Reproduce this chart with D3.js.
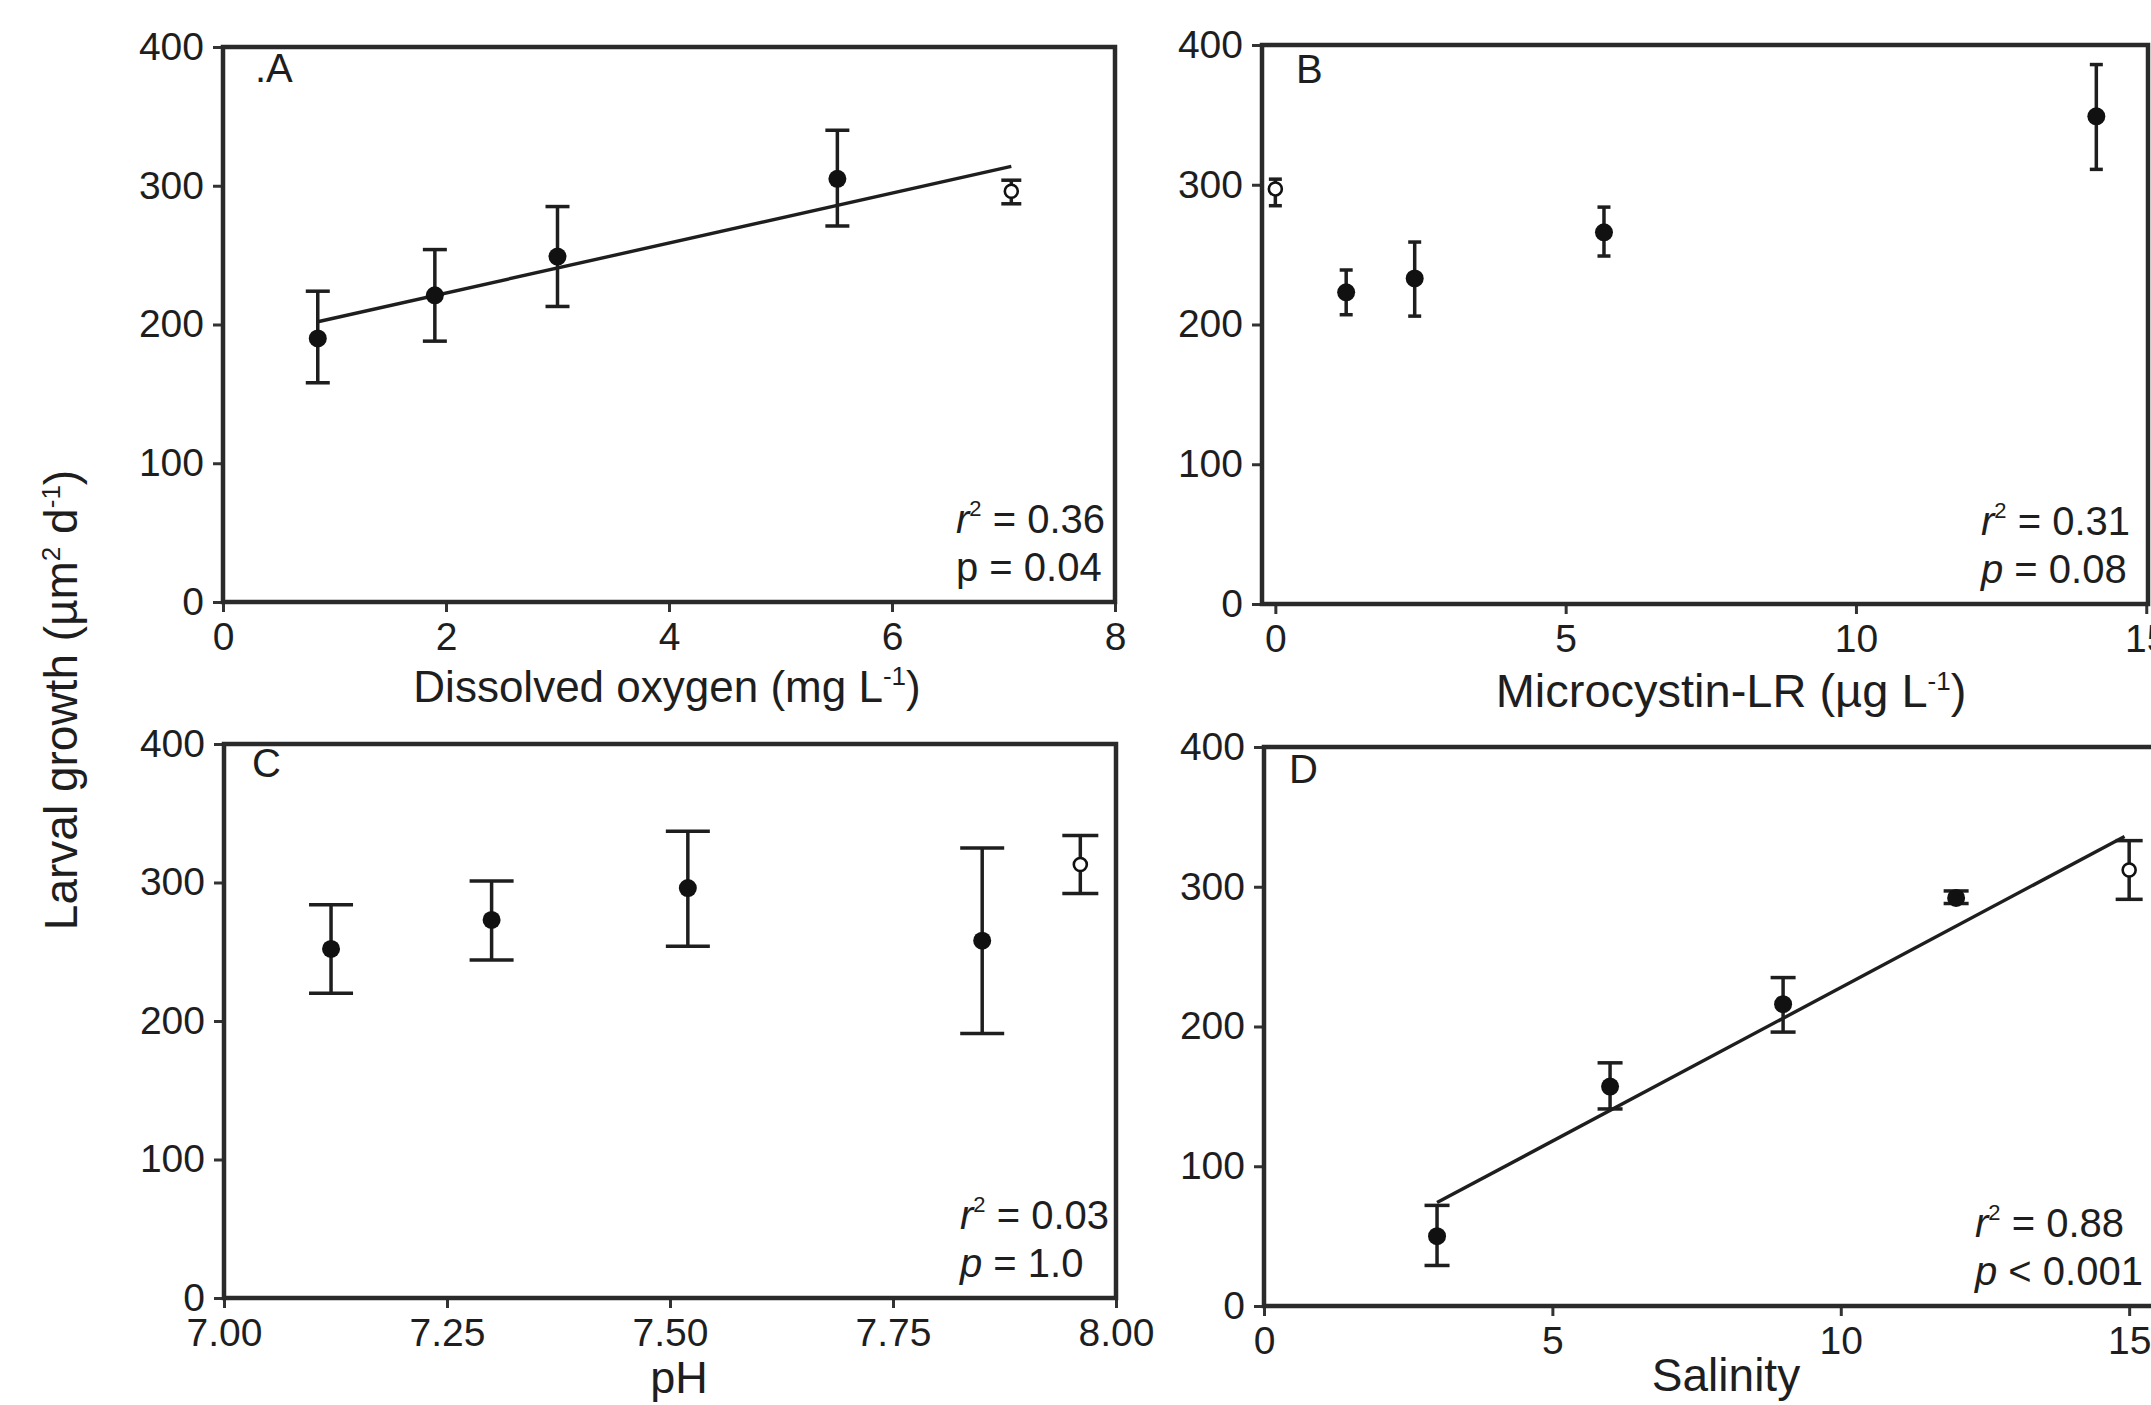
<!DOCTYPE html>
<html><head><meta charset="utf-8">
<script src="https://cdn.jsdelivr.net/npm/d3@7"></script>
<style>body{margin:0;background:#fff} svg{display:block}</style>
</head><body>
<svg id="c" width="2151" height="1405"></svg>
<script>
// ---------- DATA ----------
const yTicks = [0, 100, 200, 300, 400];

// Panel A: Dissolved oxygen
const oxygenX    = [0.85, 1.90, 3.00, 5.51, 7.07];
const oxygenY    = [190, 221, 249, 305, 296];
const oxygenHi   = [224, 254, 285, 340, 304];
const oxygenLo   = [158, 188, 213, 271, 287];
const oxygenOpen = [false, false, false, false, true];
const oxygenFitX = [0.85, 7.07];
const oxygenFitY = [202, 314];
const oxygenTicks = [0, 2, 4, 6, 8];

// Panel B: Microcystin-LR
const mcX    = [0, 1.22, 2.40, 5.66, 14.14];
const mcY    = [297, 223, 233, 266, 349];
const mcHi   = [304, 239, 259, 284, 386];
const mcLo   = [285, 207, 206, 249, 311];
const mcOpen = [true, false, false, false, false];
const mcTicks = [0, 5, 10, 15];

// Panel C: pH
const phX    = [7.12, 7.30, 7.52, 7.85, 7.96];
const phY    = [252, 273, 296, 258, 313];
const phHi   = [284, 301, 337, 325, 334];
const phLo   = [220, 244, 254, 191, 292];
const phOpen = [false, false, false, false, true];
const phTicks = [7.00, 7.25, 7.50, 7.75, 8.00];

// Panel D: Salinity
const salX    = [3, 6, 9, 12, 15];
const salY    = [50, 157, 216, 292, 312];
const salHi   = [72, 174, 235, 297, 333];
const salLo   = [29, 141, 196, 288, 291];
const salOpen = [false, false, false, false, true];
const salFitX = [3, 14.92];
const salFitY = [74, 336];
const salTicks = [0, 5, 10, 15];

const panelLetters = [".A", "B", "C", "D"];
const r2Values = ["0.36", "0.31", "0.03", "0.88"];
const pTexts   = [["p", " = 0.04"], ["p", " = 0.08"], ["p", " = 1.0"], ["p", " < 0.001"]];
const pItalic  = [false, true, true, true];

// ---------- DRAW ----------
const svg = d3.select('#c');
const FONT = '"Liberation Sans", Arial, Helvetica, sans-serif';
const INK = '#1e1e1e';

function panel(cfg) {
  const x = d3.scaleLinear().domain(cfg.xDomain).range([cfg.left, cfg.right]);
  const y = d3.scaleLinear().domain([0, 400]).range([cfg.bottom, cfg.top]);
  const g = svg.append('g');

  const ya = g.append('g').attr('transform', `translate(${cfg.left},0)`)
    .call(d3.axisLeft(y).tickValues(yTicks).tickSize(10).tickPadding(9).tickSizeOuter(0));
  const xa = g.append('g').attr('transform', `translate(0,${cfg.bottom})`)
    .call(d3.axisBottom(x).tickValues(cfg.xTicks).tickFormat(cfg.fmt).tickSize(10).tickPadding(10).tickSizeOuter(0));
  [ya, xa].forEach(a => {
    a.select('.domain').remove();
    a.selectAll('.tick line').attr('stroke', '#333').attr('stroke-width', 3);
    a.selectAll('.tick text').attr('font-family', FONT).attr('font-size', 39).attr('fill', INK);
  });

  g.append('rect')
    .attr('x', cfg.left).attr('y', cfg.top)
    .attr('width', cfg.right - cfg.left).attr('height', cfg.bottom - cfg.top)
    .attr('fill', 'none').attr('stroke', '#2a2a2a').attr('stroke-width', 4.5);

  if (cfg.fitX) {
    g.append('path')
      .datum(cfg.fitX.map((v, i) => [v, cfg.fitY[i]]))
      .attr('d', d3.line().x(d => x(d[0])).y(d => y(d[1])))
      .attr('fill', 'none').attr('stroke', INK).attr('stroke-width', 3.4);
  }

  const pts = cfg.X.map((v, i) => ({x: v, y: cfg.Y[i], hi: cfg.Hi[i], lo: cfg.Lo[i], open: cfg.Open[i]}));
  const eb = g.append('g').attr('stroke', INK).attr('stroke-width', 3.5);
  pts.forEach(d => {
    const cx = x(d.x);
    const w = d.open ? cfg.capOpen : cfg.cap;
    eb.append('line').attr('x1', cx).attr('x2', cx).attr('y1', y(d.lo)).attr('y2', y(d.hi));
    eb.append('line').attr('x1', cx - w / 2).attr('x2', cx + w / 2).attr('y1', y(d.hi)).attr('y2', y(d.hi));
    eb.append('line').attr('x1', cx - w / 2).attr('x2', cx + w / 2).attr('y1', y(d.lo)).attr('y2', y(d.lo));
  });
  g.append('g').selectAll('circle').data(pts).join('circle')
    .attr('cx', d => x(d.x)).attr('cy', d => y(d.y))
    .attr('r', d => d.open ? 6.5 : 9)
    .attr('fill', d => d.open ? '#fff' : '#111')
    .attr('stroke', '#111').attr('stroke-width', d => d.open ? 2.6 : 0);

  g.append('text').attr('x', cfg.letterX).attr('y', cfg.letterY)
    .attr('font-family', FONT).attr('font-size', 40).attr('fill', INK).text(cfg.letter);

  const s1 = g.append('text').attr('x', cfg.statX).attr('y', cfg.bottom - 69)
    .attr('font-family', FONT).attr('font-size', 40).attr('fill', INK);
  s1.append('tspan').attr('font-style', 'italic').text('r');
  s1.append('tspan').attr('font-size', 22).attr('dy', -17).text('2');
  s1.append('tspan').attr('dy', 17).text(' = ' + cfg.r2);
  const s2 = g.append('text').attr('x', cfg.statX).attr('y', cfg.bottom - 21)
    .attr('font-family', FONT).attr('font-size', 40).attr('fill', INK);
  s2.append('tspan').attr('font-style', cfg.pItalic ? 'italic' : 'normal').text(cfg.p[0]);
  s2.append('tspan').text(cfg.p[1]);

  const t = g.append('text').attr('x', cfg.titleX).attr('y', cfg.titleY)
    .attr('text-anchor', 'middle').attr('font-family', FONT).attr('font-size', cfg.titleSize).attr('fill', INK);
  cfg.title.forEach(part => {
    const ts = t.append('tspan').text(part.t);
    if (part.sup) ts.attr('font-size', 26).attr('dy', -17);
    if (part.down) ts.attr('dy', 17);
  });
}

panel({
  left: 223, right: 1115, top: 47, bottom: 602, xDomain: [0, 8], xTicks: oxygenTicks, fmt: d3.format('d'),
  X: oxygenX, Y: oxygenY, Hi: oxygenHi, Lo: oxygenLo, Open: oxygenOpen, fitX: oxygenFitX, fitY: oxygenFitY,
  cap: 24, capOpen: 20, letter: panelLetters[0], letterX: 255, letterY: 82,
  statX: 956, r2: r2Values[0], p: pTexts[0], pItalic: pItalic[0],
  titleX: 667, titleY: 702, titleSize: 44,
  title: [{t: 'Dissolved oxygen (mg L'}, {t: '-1', sup: true}, {t: ')', down: true}]
});
panel({
  left: 1262, right: 2148, top: 45, bottom: 604, xDomain: [-0.23, 15.03], xTicks: mcTicks, fmt: d3.format('d'),
  X: mcX, Y: mcY, Hi: mcHi, Lo: mcLo, Open: mcOpen,
  cap: 13, capOpen: 13, letter: panelLetters[1], letterX: 1296, letterY: 83,
  statX: 1981, r2: r2Values[1], p: pTexts[1], pItalic: pItalic[1],
  titleX: 1731, titleY: 707, titleSize: 47,
  title: [{t: 'Microcystin-LR (µg L'}, {t: '-1', sup: true}, {t: ')', down: true}]
});
panel({
  left: 224, right: 1116, top: 744, bottom: 1298, xDomain: [7, 8], xTicks: phTicks, fmt: d3.format('.2f'),
  X: phX, Y: phY, Hi: phHi, Lo: phLo, Open: phOpen,
  cap: 44, capOpen: 36, letter: panelLetters[2], letterX: 252, letterY: 777,
  statX: 960, r2: r2Values[2], p: pTexts[2], pItalic: pItalic[2],
  titleX: 679, titleY: 1393, titleSize: 45,
  title: [{t: 'pH'}]
});
panel({
  left: 1264, right: 2158, top: 747, bottom: 1306, xDomain: [0, 15.5], xTicks: salTicks, fmt: d3.format('d'),
  X: salX, Y: salY, Hi: salHi, Lo: salLo, Open: salOpen, fitX: salFitX, fitY: salFitY,
  cap: 25, capOpen: 27, letter: panelLetters[3], letterX: 1289, letterY: 783,
  statX: 1975, r2: r2Values[3], p: pTexts[3], pItalic: pItalic[3],
  titleX: 1726, titleY: 1391, titleSize: 46,
  title: [{t: 'Salinity'}]
});

const yt = svg.append('text')
  .attr('transform', 'translate(77,700) rotate(-90)')
  .attr('text-anchor', 'middle').attr('font-family', FONT).attr('font-size', 46).attr('fill', INK);
yt.append('tspan').text('Larval growth (µm');
yt.append('tspan').attr('font-size', 26).attr('dy', -17).text('2');
yt.append('tspan').attr('dy', 17).text(' d');
yt.append('tspan').attr('font-size', 26).attr('dy', -17).text('-1');
yt.append('tspan').attr('dy', 17).text(')');
</script>
</body></html>
